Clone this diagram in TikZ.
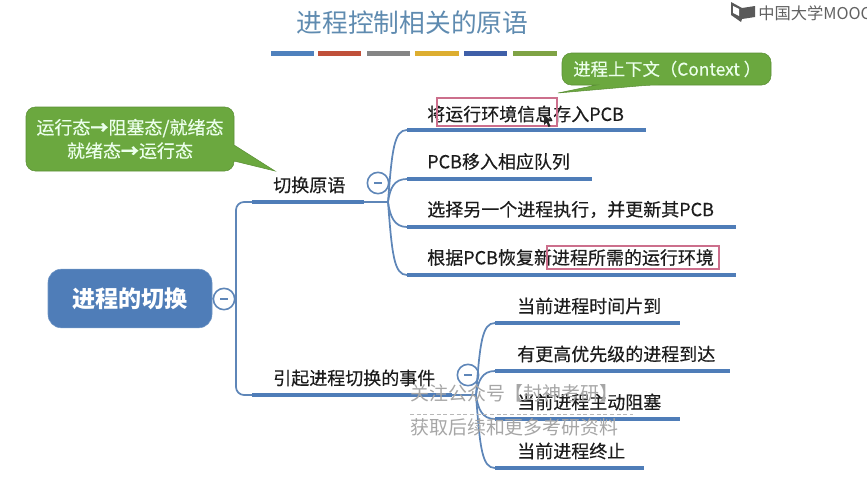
\documentclass[tikz,border=0pt]{standalone}
\usepackage{fontspec}
\setmainfont{Noto Sans CJK SC}
\newfontfamily\medfont[FakeBold=0.35]{Noto Sans CJK SC}
\usetikzlibrary{calc}
\definecolor{lineblue}{HTML}{4F7DB8}
\definecolor{thinblue}{HTML}{5E86B8}
\definecolor{callgreen}{HTML}{6BA83F}
\definecolor{titleblue}{HTML}{5F8BB0}
\definecolor{txt}{HTML}{1C1C1C}
\definecolor{pinkline}{HTML}{CC6F8C}
\tikzset{
  lab/.style={anchor=west,inner sep=0pt,text=txt,font=\medfont\fontsize{13.5}{15}\selectfont},
  under/.style={draw=lineblue,line width=3.2pt},
  thin link/.style={draw=thinblue,line width=1.3pt},
  fold/.style={circle,draw=thinblue,fill=white,line width=1.2pt,minimum size=16pt,inner sep=0pt},
  foldbar/.style={draw=thinblue,line width=1.2pt},
  callout/.style={fill=callgreen,draw=callgreen!85!black,line width=.4pt,rounded corners=7pt},
  calltext/.style={text=white!92!green,inner sep=0pt,align=center,font=\medfont\fontsize{13.5}{17.5}\selectfont},
  redbox/.style={draw=pinkline,line width=.8pt},
  wm/.style={anchor=west,inner sep=0pt,text=black!35,font=\fontsize{14.2}{16}\selectfont},
  barline/.style={line width=3.6pt}
}
\begin{document}
\begin{tikzpicture}[x=0.75pt,y=-0.75pt]
\useasboundingbox (0,0) rectangle (867,489);
\begin{scope}
\clip (0,0) rectangle (867,489);

% title
\node[anchor=center,inner sep=0pt,text=titleblue,font=\fontsize{19.3}{21}\selectfont] (title) at (412.5,23) {进程控制相关的原语};
\definecolor{b1}{HTML}{4F81BD}\definecolor{b2}{HTML}{C0503A}\definecolor{b3}{HTML}{858585}
\definecolor{b4}{HTML}{DDAE30}\definecolor{b5}{HTML}{3F5FA8}\definecolor{b6}{HTML}{7FA345}
\foreach \a/\b/\c in {271/314/b1,318/361/b2,367/410/b3,415/459/b4,464/507/b5,513/557/b6}
  \draw[barline,draw=\c] (\a,53.5) -- (\b,53.5);

% logo
\fill[black!65] (731,2) -- (742,8) -- (755,6) -- (755,17) -- (742,19) -- (741,22) -- (731,15) -- cycle;
\fill[white] (739,9) -- (733,6) -- (733,13) -- (739,16) -- cycle;
\node[anchor=west,inner sep=0pt,text=black!62,font=\fontsize{12.2}{14}\selectfont] (logo) at (758,13) {中国大学MOOC};

% callouts
\draw[callout] (234,145) -- (234,107) -- (26,107) -- (26,171) -- (234,171) [sharp corners] -- (234,161) -- (275,171) -- (234,145) -- cycle;
\node[calltext] (c1) at (130,139) {运行态\textbf{→}阻塞态/就绪态\\就绪态\textbf{→}运行态};
\draw[callout] (597,85) -- (562,85) -- (562,53) -- (771,53) -- (771,85) -- (650,85) [sharp corners] -- (558,93) -- (597,85) -- cycle;
\node[calltext,anchor=west,font=\medfont\fontsize{13}{15}\selectfont] (c2) at (573,69) {进程上下文（Context ）};

% root
\node[fill=lineblue,draw=lineblue!80!white,rounded corners=10pt,minimum width=123pt,minimum height=44pt,inner sep=0pt,text=white,font=\fontsize{17.3}{19}\bfseries\selectfont] (root) at (130,298.5) {进程的切换};

% coordinates
\coordinate (t1a) at (252,202); \coordinate (t1b) at (364,202);
\coordinate (t2a) at (252,395); \coordinate (t2b) at (452,395);
\coordinate (h1) at (388,202); \coordinate (h2) at (476,395);
\coordinate (a1) at (407,130); \coordinate (a1e) at (646,130);
\coordinate (a2) at (407,179); \coordinate (a2e) at (592,179);
\coordinate (a3) at (407,227); \coordinate (a3e) at (736,227);
\coordinate (a4) at (407,275); \coordinate (a4e) at (736,275);
\coordinate (b1s) at (495,323); \coordinate (b1e) at (680,323);
\coordinate (b2s) at (495,371); \coordinate (b2e) at (730,371);
\coordinate (b3s) at (495,419); \coordinate (b3e) at (680,419);
\coordinate (b4s) at (495,468); \coordinate (b4e) at (644,468);

% trunk
\draw[thin link,rounded corners=6pt] (t1a) -- (236,202) -- (236,395) -- (t2a);
\draw[thin link] (root.east) -- (236,299);

% branches
\draw[thin link] (t1b) -- (h1);
\draw[thin link] (h1) .. controls (392,150) and (394,130) .. (a1);
\draw[thin link] (h1) .. controls (390,188) and (394,179) .. (a2);
\draw[thin link] (h1) .. controls (390,216) and (394,227) .. (a3);
\draw[thin link] (h1) .. controls (392,254) and (394,275) .. (a4);
\draw[thin link] (t2b) -- (h2);
\draw[thin link] (h2) .. controls (480,343) and (482,323) .. (b1s);
\draw[thin link] (h2) .. controls (478,381) and (482,371) .. (b2s);
\draw[thin link] (h2) .. controls (478,409) and (482,419) .. (b3s);
\draw[thin link] (h2) .. controls (480,448) and (482,468) .. (b4s);

% underlines
\draw[under] (t1a) -- (t1b);
\draw[under] (t2a) -- (t2b);
\draw[under] (a1) -- (a1e);
\draw[under] (a2) -- (a2e);
\draw[under] (a3) -- (a3e);
\draw[under] (a4) -- (a4e);
\draw[under] (b1s) -- (b1e);
\draw[under] (b2s) -- (b2e);
\draw[under] (b3s) -- (b3e);
\draw[under] (b4s) -- (b4e);

% fold marks
\node[fold] (f0) at (224,299) {};
\draw[foldbar] ($(f0)+(-4,0)$) -- ($(f0)+(4,0)$);
\node[fold] (f1) at (378,183) {};
\draw[foldbar] ($(f1)+(-4,0)$) -- ($(f1)+(4,0)$);
\node[fold,fill=none] (f2) at (468,375) {};
\draw[foldbar] ($(f2)+(-4,0)$) -- ($(f2)+(4,0)$);

% labels
\node[lab] (l1) at (273,185) {切换原语};
\node[lab] (l2) at (273,378) {引起进程切换的事件};
\node[lab] (a1t) at (427,114) {将运行环境信息存入PCB};
\node[lab] (a2t) at (427,161.5) {PCB移入相应队列};
\node[lab] (a3t) at (427,209.5) {选择另一个进程执行，并更新其PCB};
\node[lab] (a4t) at (427,257.5) {根据PCB恢复新进程所需的运行环境};
\node[lab] (b1t) at (517,306) {当前进程时间片到};
\node[lab] (b2t) at (517,354) {有更高优先级的进程到达};
\node[lab] (b3t) at (517,402) {当前进程主动阻塞};
\node[lab] (b4t) at (517,451) {当前进程终止};

% red boxes
\draw[redbox] (437,98) rectangle (557,126);
\draw[redbox] (547,246) rectangle (719,269);

% cursor
\fill[black!85] (544,115) -- (544,125) -- (546.5,122.5) -- (548.5,127) -- (550.5,126) -- (548.5,121.5) -- (552,121) -- cycle;

% watermark
\node[wm] (w1) at (410,393) {关注公众号【封神考研】};
\draw[black!28,densely dashed,line width=.7pt] (410,414) -- (633,414);
\node[wm] (w2) at (410,427) {获取后续和更多考研资料};
\end{scope}
\end{tikzpicture}
\end{document}
